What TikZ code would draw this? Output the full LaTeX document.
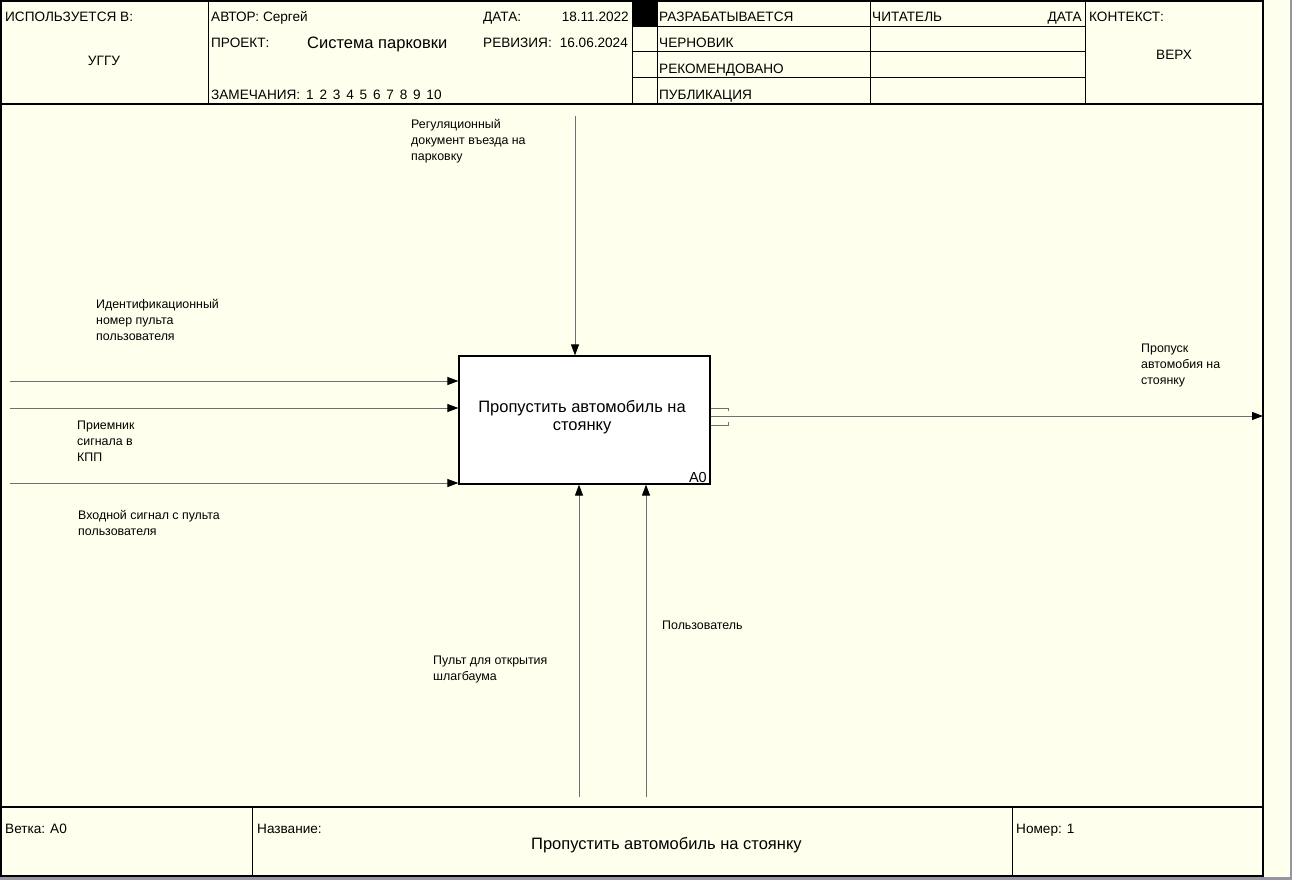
\documentclass[tikz,border=0pt]{standalone}
\usepackage{fontspec}
\setmainfont{Liberation Sans}
\usetikzlibrary{arrows.meta}
\definecolor{paper}{RGB}{255,255,238}
\definecolor{wire}{RGB}{112,112,112}
\definecolor{edge}{RGB}{150,150,160}
\begin{document}
\begin{tikzpicture}[x=1pt,y=-1pt,
  frame/.style={line width=1.6pt,black},
  thin/.style={line width=1pt,black},
  wirearrow/.style={draw=wire,line width=1pt,-{Triangle[length=11pt,width=8pt,fill=black,color=black]}},
  stub/.style={draw=wire,line width=1pt},
  hdr/.style={font=\fontsize{13.6}{16}\selectfont,inner sep=0pt,anchor=base west},
  big/.style={font=\fontsize{16.5}{18}\selectfont,inner sep=0pt},
  lbl/.style={font=\fontsize{12.4}{16}\selectfont,inner sep=0pt,align=left,anchor=north west},
  func/.style={draw=black,line width=1.2pt,fill=white,minimum width=251pt,minimum height=128pt,inner sep=0pt}]
\useasboundingbox (0,0) rectangle (1292,880);
\fill[paper] (0,0) rectangle (1292,880);
% window edges
\draw[edge,line width=3pt] (0,878.5) -- (1292,878.5);
\draw[edge,line width=1.5pt] (1291.2,0) -- (1291.2,877);

% outer frame and header/footer bands
\draw[frame] (0.8,0.8) rectangle (1263,876);
\draw[frame] (0.8,104) -- (1263,104);
\draw[frame] (0.8,807) -- (1263,807);
\draw[thin] (208,0.8) -- (208,104);
\draw[thin] (632,0.8) -- (632,104);
\draw[thin] (657,0.8) -- (657,104);
\draw[thin] (870,0.8) -- (870,104);
\draw[thin] (1085,0.8) -- (1085,104);
\foreach \yy in {27,52,78} \draw[thin] (632,\yy) -- (1085,\yy);
\fill[black] (632,0.8) rectangle (657,27);
\draw[thin] (252,807) -- (252,876);
\draw[thin] (1012,807) -- (1012,876);

% header texts
\node[hdr] (usedat) at (5,22) {ИСПОЛЬЗУЕТСЯ В:};
\node[hdr,anchor=base] (org) at (104,66) {УГГУ};
\node[hdr] (author) at (211,21.5) {АВТОР: Сергей};
\node[hdr] (datek) at (483,21.5) {ДАТА:};
\node[hdr,anchor=base east] (datev) at (629,21.5) {18.11.2022};
\node[hdr] (projk) at (211,47.5) {ПРОЕКТ:};
\node[big,anchor=base west] (projv) at (307,48.5) {Система парковки};
\node[hdr] (rev) at (483,47.5) {РЕВИЗИЯ:\hspace{8pt}16.06.2024};
\node[hdr] (notes) at (211,100) {ЗАМЕЧАНИЯ:\hspace{6pt}1\hspace{5.8pt}2\hspace{5.8pt}3\hspace{5.8pt}4\hspace{5.8pt}5\hspace{5.8pt}6\hspace{5.8pt}7\hspace{5.8pt}8\hspace{5.8pt}9\hspace{5.8pt}10};
\node[hdr] (st1) at (659,21.5) {РАЗРАБАТЫВАЕТСЯ};
\node[hdr] (st2) at (659,47.5) {ЧЕРНОВИК};
\node[hdr] (st3) at (659,73.5) {РЕКОМЕНДОВАНО};
\node[hdr] (st4) at (659,99.5) {ПУБЛИКАЦИЯ};
\node[hdr] (reader) at (872,21.5) {ЧИТАТЕЛЬ};
\node[hdr,anchor=base east] (rdate) at (1082,21.5) {ДАТА};
\node[hdr] (ctx) at (1089,22) {КОНТЕКСТ:};
\node[hdr,anchor=base] (top) at (1174,60) {ВЕРХ};

% footer texts
\node[hdr] (branch) at (5,833) {Ветка: A0};
\node[hdr] (namek) at (257,833) {Название:};
\node[big,anchor=base west] (namev) at (531,849.5) {Пропустить автомобиль на стоянку};
\node[hdr] (num) at (1016,833) {Номер: 1};

% function block
\node[func] (a0) at (584.5,420) {};
\node[big,align=center] (a0txt) at (582,417) {Пропустить автомобиль на\\стоянку};
\node[font=\fontsize{14.5}{16}\selectfont,inner sep=0pt,anchor=south east] (a0num) at (707,483) {A0};

% control
\coordinate (ctl) at (575,116);
\draw[wirearrow] (ctl) -- (ctl |- a0.north);
\node[lbl] (ctllbl) at (411,119) {Регуляционный\\документ въезда на\\парковку};

% inputs
\coordinate (in1) at (10,381);
\coordinate (in2) at (10,408);
\coordinate (in3) at (10,483);
\draw[wirearrow] (in1) -- (in1 -| a0.west);
\draw[wirearrow] (in2) -- (in2 -| a0.west);
\draw[wirearrow] (in3) -- (in3 -| a0.west);
\node[lbl] (in1lbl) at (96,299) {Идентификационный\\номер пульта\\пользователя};
\node[lbl] (in2lbl) at (77,421) {Приемник\\сигнала в\\КПП};
\node[lbl] (in3lbl) at (78,510) {Входной сигнал с пульта\\пользователя};

% output
\coordinate (out) at (1263,416);
\draw[wirearrow] (a0.east |- out) -- (out);
\draw[stub] (a0.east |- 0,408) -- (728,408) -- (728,411);
\draw[stub] (a0.east |- 0,425) -- (728,425) -- (728,422);
\node[lbl] (outlbl) at (1141,344) {Пропуск\\автомобия на\\стоянку};

% mechanisms
\coordinate (m1) at (579,797);
\coordinate (m2) at (646,797);
\draw[wirearrow] (m1) -- (m1 |- a0.south);
\draw[wirearrow] (m2) -- (m2 |- a0.south);
\node[lbl] (m1lbl) at (433,656) {Пульт для открытия\\шлагбаума};
\node[lbl] (m2lbl) at (662,621) {Пользователь};
\end{tikzpicture}
\end{document}
